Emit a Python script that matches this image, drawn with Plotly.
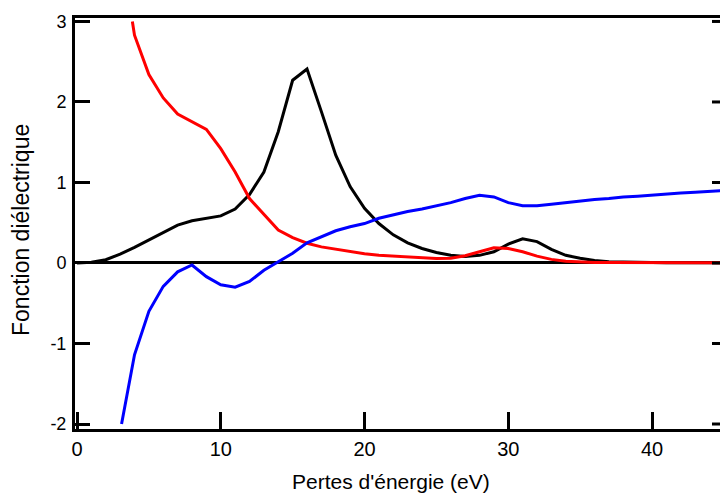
import plotly.graph_objects as go

# Energy loss axis (eV)
x_black = [0, 1, 2, 3, 4, 5, 6, 7, 8, 9, 10, 11, 12, 13, 14, 15, 16, 17, 18, 19, 20,
           21, 22, 23, 24, 25, 26, 27, 28, 29, 30, 31, 32, 33, 34, 35, 36, 37, 38,
           39, 40, 41, 42, 43, 44, 45]
y_black = [0.0, 0.01, 0.04, 0.11, 0.195, 0.29, 0.385, 0.47, 0.525, 0.555, 0.585, 0.67,
           0.85, 1.13, 1.63, 2.27, 2.41, 1.88, 1.34, 0.95, 0.68, 0.49, 0.35, 0.25,
           0.18, 0.13, 0.095, 0.08, 0.095, 0.14, 0.235, 0.30, 0.265, 0.17, 0.095,
           0.06, 0.03, 0.015, 0.01, 0.007, 0.005, 0.004, 0.003, 0.002, 0.002, 0.002]

x_red = [3.85, 4, 5, 6, 7, 8, 9, 10, 11, 12, 13, 14, 15, 16, 17, 18, 19, 20, 21, 22,
         23, 24, 25, 26, 27, 28, 29, 30, 31, 32, 33, 34, 35, 36, 37, 38, 39, 40, 41,
         42, 43, 44, 45]
y_red = [3.0, 2.83, 2.34, 2.05, 1.85, 1.76, 1.66, 1.42, 1.13, 0.80, 0.60, 0.41, 0.315,
         0.245, 0.20, 0.17, 0.14, 0.115, 0.095, 0.085, 0.07, 0.062, 0.055, 0.06, 0.09,
         0.14, 0.19, 0.18, 0.14, 0.085, 0.045, 0.022, 0.012, 0.007, 0.005, 0.004,
         0.004, 0.004, 0.004, 0.004, 0.004, 0.004, 0.004]

x_blue = [3.1, 4, 5, 6, 7, 8, 9, 10, 11, 12, 13, 14, 15, 16, 17, 18, 19, 20, 21, 22,
          23, 24, 25, 26, 27, 28, 29, 30, 31, 32, 33, 34, 35, 36, 37, 38, 39, 40, 41,
          42, 43, 44, 45]
y_blue = [-2.0, -1.14, -0.60, -0.29, -0.11, -0.025, -0.17, -0.27, -0.30, -0.23, -0.09,
          0.02, 0.12, 0.25, 0.33, 0.40, 0.45, 0.49, 0.555, 0.60, 0.64, 0.67, 0.71,
          0.75, 0.80, 0.84, 0.82, 0.75, 0.71, 0.71, 0.73, 0.75, 0.77, 0.79, 0.80,
          0.82, 0.83, 0.845, 0.86, 0.87, 0.88, 0.89, 0.90]

x_ticks = [0, 10, 20, 30, 40]
x_tick_labels = ["0", "10", "20", "30", "40"]
y_ticks = [-2, -1, 0, 1, 2, 3]
y_tick_labels = ["-2", "-1", "0", "1", "2", "3"]

x_title = "Pertes d'énergie (eV)"
y_title = "Fonction diélectrique"

fig = go.Figure()
fig.add_trace(go.Scatter(x=x_black, y=y_black, mode="lines",
                         line=dict(color="black", width=3), showlegend=False))
fig.add_trace(go.Scatter(x=x_red, y=y_red, mode="lines",
                         line=dict(color="#ff0000", width=3), showlegend=False))
fig.add_trace(go.Scatter(x=x_blue, y=y_blue, mode="lines",
                         line=dict(color="#0000ff", width=3), showlegend=False))

font_family = "Liberation Sans, Arial, sans-serif"

fig.update_layout(
    width=720, height=493,
    margin=dict(l=75, r=0, t=18, b=64),
    paper_bgcolor="white", plot_bgcolor="white",
    font=dict(family=font_family, color="black"),
    xaxis=dict(
        range=[-0.14, 44.73], tickvals=x_ticks, ticktext=x_tick_labels,
        ticks="inside", ticklen=17, automargin=False,
        tickwidth=3, tickcolor="black", showline=True, linewidth=3,
        linecolor="black", mirror=True, showgrid=False, zeroline=False,
        tickfont=dict(size=20, family=font_family),
    ),
    yaxis=dict(
        range=[-2.062, 3.043], tickvals=y_ticks, ticktext=y_tick_labels,
        ticks="inside", ticklen=15, automargin=False, ticklabelstandoff=2,
        tickwidth=3, tickcolor="black", showline=True, linewidth=3,
        linecolor="black", mirror=False, showgrid=False, zeroline=True,
        zerolinecolor="black", zerolinewidth=3,
        tickfont=dict(size=18, family=font_family),
    ),
)

fig.add_annotation(text=x_title, xref="paper", yref="paper", x=(391 - 75) / 645,
                   y=-(481 - 429) / 411, xanchor="center", yanchor="middle",
                   showarrow=False, font=dict(size=21, family=font_family))
fig.add_annotation(text=y_title, xref="paper", yref="paper", x=-(75 - 21) / 645,
                   y=(429 - 230) / 411, xanchor="center", yanchor="middle",
                   textangle=-90, showarrow=False,
                   font=dict(size=23, family=font_family))

# right-side mirror tick marks
for yv in y_ticks:
    fig.add_shape(type="line", xref="paper", yref="y",
                  x0=(712 - 75) / 645, x1=1.0, y0=yv, y1=yv,
                  line=dict(color="black", width=3))

fig.write_html(
    "out.html",
    config={"displayModeBar": False},
    post_script="document.body.style.margin='0';document.body.style.overflow='hidden';",
)
